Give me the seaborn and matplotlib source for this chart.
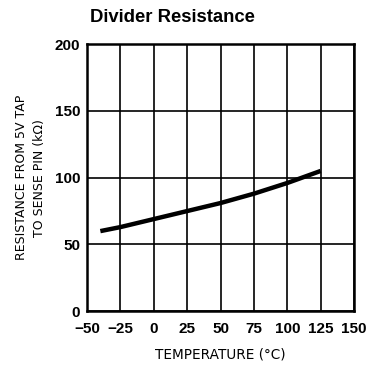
import matplotlib
matplotlib.use("Agg")
import matplotlib.pyplot as plt
import seaborn as sns
import pandas as pd

# Divider resistance vs. temperature
temperature_c = [-40, -25, 0, 25, 50, 75, 100, 125]
resistance_kohm = [60, 63, 69, 75, 81, 88, 96, 105]

x_ticks = [-50, -25, 0, 25, 50, 75, 100, 125, 150]
y_ticks = [0, 50, 100, 150, 200]

sns.set_theme(style="white")
plt.rcParams["font.family"] = ["DejaVu Sans"]

df = pd.DataFrame({"temp": temperature_c, "res": resistance_kohm})

fig = plt.figure(figsize=(3.75, 3.79), dpi=100)
ax = fig.add_axes([87 / 375, 1 - 311.3 / 379, (354 - 87) / 375, (311.3 - 44) / 379])

sns.lineplot(data=df, x="temp", y="res", ax=ax, color="black", linewidth=3.2,
             solid_capstyle="butt", zorder=3)

tick_font = dict(family=["Liberation Sans", "DejaVu Sans"], fontsize=11,
                 fontweight="bold")

ax.set_xlim(-50, 150)
ax.set_ylim(0, 200)
ax.set_xticks(x_ticks)
ax.set_yticks(y_ticks)
ax.set_xticklabels([str(v).replace("-", "\u2212") for v in x_ticks], **tick_font)
ax.set_yticklabels([str(v) for v in y_ticks], **tick_font)
ax.tick_params(axis="x", length=0, pad=8, colors="black")
ax.tick_params(axis="y", length=0, pad=5, colors="black")

ax.grid(True, color="black", linewidth=1.2)
for s in ax.spines.values():
    s.set_color("black")
    s.set_linewidth(1.8)
    s.set_visible(True)

ax.set_xlabel("TEMPERATURE (\u00b0C)", fontsize=9.8, color="black", labelpad=8)
ax.set_ylabel("RESISTANCE FROM 5V TAP\nTO SENSE PIN (k\u03a9)", fontsize=9,
              color="black", labelpad=6, linespacing=1.5)

fig.text(90 / 375, 1 - 22 / 379, "Divider Resistance",
         family=["Liberation Sans", "DejaVu Sans"], fontweight="bold",
         fontsize=13.3, va="baseline", ha="left", color="black")

fig.savefig("out.png", dpi=100, facecolor="white")
